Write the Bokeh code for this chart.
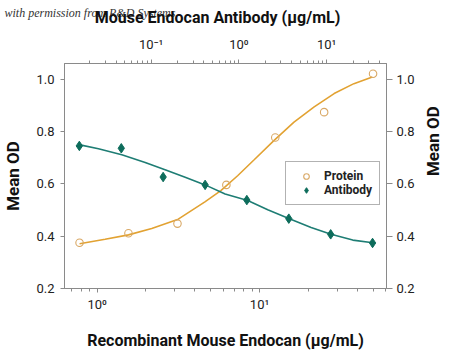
import math
from bokeh.plotting import figure
from bokeh.models import (Range1d, LogScale, LogAxis, LinearAxis, FixedTicker,
                          CustomJSTickFormatter, Legend, LegendItem, Label)
from bokeh.embed import file_html
from bokeh.resources import INLINE

# ---- data ----
protein_conc = [0.78, 1.56, 3.125, 6.25, 12.5, 25, 50]            # ug/mL (bottom axis)
protein_od = [0.375, 0.411, 0.448, 0.596, 0.777, 0.874, 1.021]

antibody_conc = [0.0152, 0.0457, 0.137, 0.412, 1.23, 3.70, 11.1, 33.3]  # ug/mL (top axis)
antibody_od = [0.745, 0.736, 0.626, 0.596, 0.538, 0.467, 0.407, 0.374]

protein_fit_x = [0.78, 1.12, 1.56, 2.17, 3.16, 4.61, 5.78, 7.33, 9.27, 12.3, 16.3, 21.7, 28.8, 38.1, 49.5]
protein_fit_y = [0.371, 0.388, 0.405, 0.429, 0.465, 0.531, 0.574, 0.631, 0.692, 0.766, 0.836, 0.894, 0.945, 0.983, 1.008]

antibody_fit_x = [0.0155, 0.0251, 0.0463, 0.0855, 0.144, 0.244, 0.412, 0.696, 1.26, 2.13, 3.76, 6.64, 11.2, 19.8, 33.5]
antibody_fit_y = [0.749, 0.734, 0.711, 0.682, 0.654, 0.625, 0.596, 0.561, 0.536, 0.501, 0.467, 0.433, 0.407, 0.385, 0.375]

y_ticks = [0.2, 0.4, 0.6, 0.8, 1.0]
bottom_major = [1, 10]
bottom_minor = [0.7, 0.8, 0.9, 2, 3, 4, 5, 6, 7, 8, 9, 20, 30, 40, 50, 60]
top_major = [0.1, 1, 10]
top_minor = [0.02, 0.03, 0.04, 0.05, 0.06, 0.07, 0.08, 0.09,
             0.2, 0.3, 0.4, 0.5, 0.6, 0.7, 0.8, 0.9,
             2, 3, 4, 5, 6, 7, 8, 9, 20, 30, 40]

x_title = "Recombinant Mouse Endocan (\u03bcg/mL)"
top_title = "Mouse Endocan Antibody (\u03bcg/mL)"
y_title = "Mean OD"
legend_labels = ["Protein", "Antibody"]
watermark = "with permission from R&D Systems"

# ---- style ----
FONT = "Roboto"
ORANGE = "#E2A232"
ORANGE_PT = "#D9A865"
TEAL = "#1E7D74"
TEAL_PT = "#0D6C5B"
AXIS = "#8a8a8a"
TXT = "#222222"

FRAME_W, FRAME_H = 322, 225
BORDER_L, BORDER_T = 56, 60

p = figure(frame_width=FRAME_W, frame_height=FRAME_H,
           x_axis_type="log", x_range=Range1d(0.63, 60.5), y_range=Range1d(0.2, 1.06),
           output_backend="svg", toolbar_location=None,
           min_border_left=BORDER_L, min_border_right=56, min_border_top=BORDER_T, min_border_bottom=60,
           background_fill_color="white", border_fill_color="white")
p.xgrid.visible = False
p.ygrid.visible = False
p.outline_line_color = AXIS

p.extra_x_ranges = {"ab": Range1d(0.0103, 48)}
p.extra_x_scales = {"ab": LogScale()}

sup_fmt = CustomJSTickFormatter(code="""
const m = {"-":"\u207b","0":"\u2070","1":"\u00b9","2":"\u00b2","3":"\u00b3","4":"\u2074",
           "5":"\u2075","6":"\u2076","7":"\u2077","8":"\u2078","9":"\u2079"};
const e = Math.round(Math.log10(tick));
return "10" + String(e).split("").map(c => m[c]).join("");
""")
dec_fmt = CustomJSTickFormatter(code="return tick.toFixed(1);")

def style_axis(ax, title, label_standoff, title_standoff, title_size="17px"):
    ax.axis_label = title
    ax.axis_label_text_font = FONT
    ax.axis_label_text_font_style = "bold"
    ax.axis_label_text_font_size = title_size
    ax.axis_label_text_color = "#111111"
    ax.axis_label_standoff = title_standoff
    ax.major_label_text_font = FONT
    ax.major_label_text_font_size = "13px"
    ax.major_label_text_color = TXT
    ax.major_label_standoff = label_standoff
    ax.axis_line_color = AXIS
    ax.major_tick_line_color = AXIS
    ax.minor_tick_line_color = AXIS
    ax.major_tick_in = 0
    ax.major_tick_out = 4
    ax.minor_tick_in = 0
    ax.minor_tick_out = 3

# bottom axis
bx = p.xaxis[0]
style_axis(bx, x_title, 4, 16, "16px")
bx.ticker = FixedTicker(ticks=bottom_major, minor_ticks=bottom_minor)
bx.formatter = sup_fmt

# left axis
ly = p.yaxis[0]
style_axis(ly, y_title, 6, 10)
ly.ticker = FixedTicker(ticks=y_ticks)
ly.formatter = dec_fmt

# top axis (its title is drawn as a label in the top panel so the watermark can overlap it)
tx = LogAxis(x_range_name="ab")
style_axis(tx, None, 8, 0, "16px")
tx.ticker = FixedTicker(ticks=top_major, minor_ticks=top_minor)
tx.formatter = sup_fmt
p.add_layout(tx, "above")

# right axis
ry = LinearAxis(ticker=FixedTicker(ticks=y_ticks), formatter=dec_fmt)
style_axis(ry, y_title, 4, 15)
ry.major_tick_out = 6
ry.axis_label_orientation = math.pi / 2
p.add_layout(ry, "right")

# fitted curves
p.line(protein_fit_x, protein_fit_y, line_color=ORANGE, line_width=1.6)
p.line(antibody_fit_x, antibody_fit_y, line_color=TEAL, line_width=1.6, x_range_name="ab")

# data points
r_prot = p.scatter(protein_conc, protein_od, marker="circle", size=7.5,
                   fill_color="white", fill_alpha=0.0, line_color=ORANGE_PT, line_width=1.1)
r_ab = p.scatter(antibody_conc, antibody_od, marker="diamond", size=9.5,
                 fill_color=TEAL_PT, line_color=TEAL_PT, x_range_name="ab")

legend = Legend(items=[LegendItem(label=legend_labels[0], renderers=[r_prot]),
                       LegendItem(label=legend_labels[1], renderers=[r_ab])],
                location=(221, 83), padding=7, spacing=0, glyph_width=26, glyph_height=14,
                label_height=14, label_standoff=5, margin=0,
                label_text_font=FONT, label_text_font_size="12px", label_text_font_style="bold",
                label_text_color=TXT, border_line_color="#666666", border_line_width=1,
                background_fill_color="white")
p.add_layout(legend)

# watermark and top title, placed in the top panel (canvas pixel units)
wm = Label(x=4, y=12, x_units="canvas", y_units="canvas", text=watermark,
           text_font="Liberation Serif", text_font_style="italic",
           text_font_size="12px", text_color="#333333", text_baseline="alphabetic")
p.add_layout(wm, "above")
tt = Label(x=BORDER_L + FRAME_W / 2, y=17, x_units="canvas", y_units="canvas", text=top_title,
           text_font=FONT, text_font_style="bold", text_font_size="16px",
           text_color="#111111", text_align="center", text_baseline="alphabetic")
p.add_layout(tt, "above")

open("out.html", "w").write(file_html(p, INLINE))
